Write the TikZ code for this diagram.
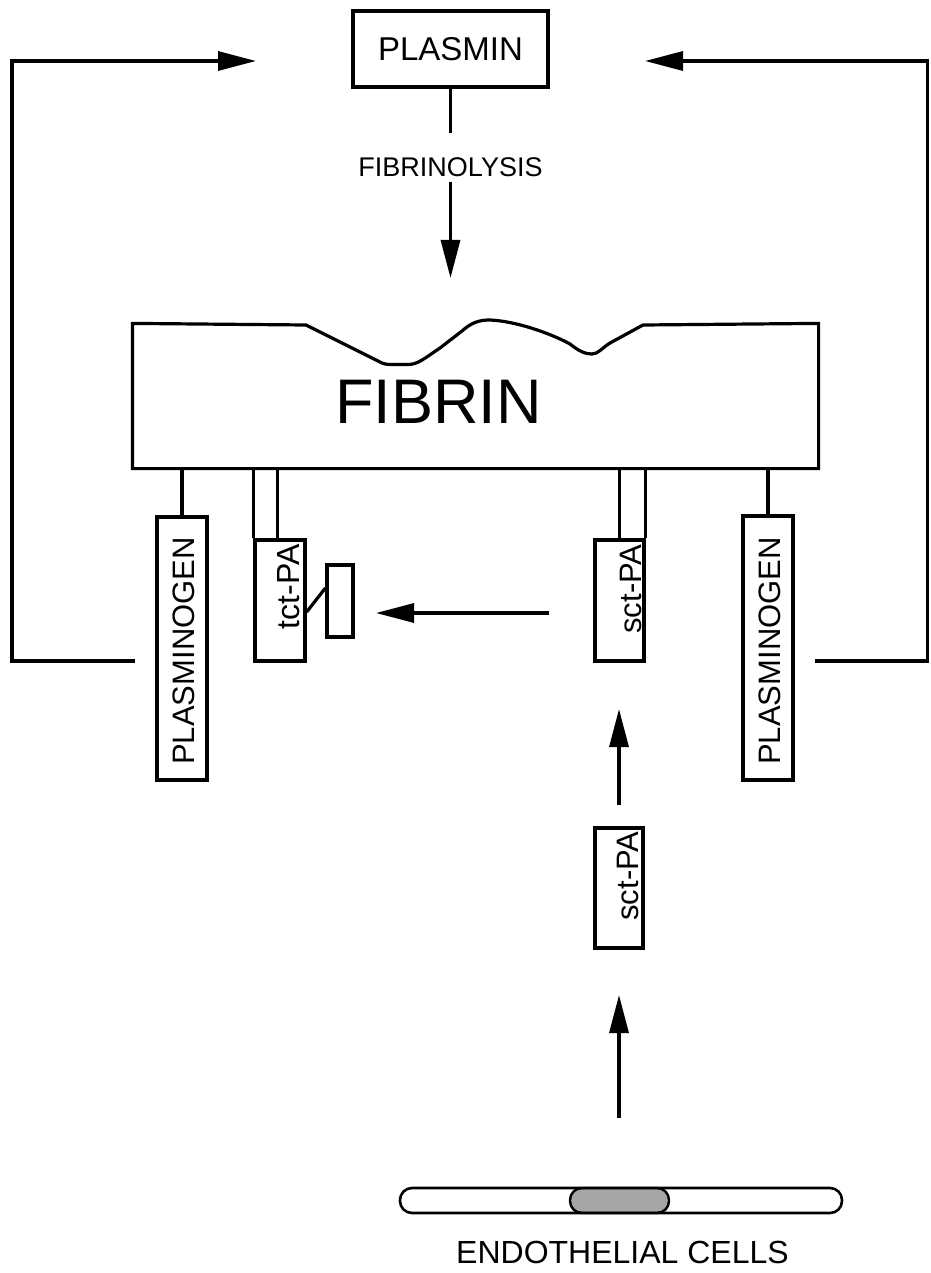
\documentclass[tikz,border=0pt]{standalone}
\usepackage{fontspec}
\setmainfont{Liberation Sans}
\usetikzlibrary{arrows.meta,calc,patterns}
\begin{document}
\begin{tikzpicture}[x=1pt,y=-1pt,
  line width=3.2pt, line join=miter,
  bx/.style={draw, line width=3.2pt, inner sep=0pt},
  arr/.style={-{Triangle[length=38pt,width=19pt]}},
  lbl/.style={inner sep=0pt, text=black},
  vtxt/.style={lbl, rotate=90, anchor=base east},
]
\useasboundingbox (0,0) rectangle (930,1273);

% PLASMIN and fibrinolysis
\node[bx, minimum width=195pt, minimum height=76pt, font=\fontsize{33}{40}\selectfont] (plasmin) at (450.5,49) {PLASMIN};
\node[lbl, font=\fontsize{27}{32}\selectfont] (fibrinolysis) at (450.5,167.5) {FIBRINOLYSIS};
\draw (plasmin.south) -- ([yshift=23pt]fibrinolysis.north);
\coordinate (fltip) at (450.5,278);
\draw[arr] ([yshift=-3pt]fibrinolysis.south) -- (fltip);

% FIBRIN
\node[minimum width=683pt, minimum height=142pt, inner sep=0pt] (fibrin) at (475.5,396) {};
\draw (fibrin.north west) -- (306,325) -- (378,361)
  .. controls (383,364) and (386,364.5) .. (392,364.5) -- (408,364.5)
  .. controls (418,364.5) and (425,358) .. (440,348) -- (462,331)
  .. controls (472,322) and (480,320) .. (490,320)
  .. controls (515,321) and (550,333) .. (570,344)
  .. controls (580,352) and (586,354) .. (592,354)
  .. controls (598,354) and (602,348) .. (610,343)
  -- (643,325) -- (fibrin.north east) -- (fibrin.south east) -- (fibrin.south west) -- cycle;
\node[lbl, font=\fontsize{63}{70}\selectfont, anchor=base] (fibrintxt) at (438.5,423) {FIBRIN};

% plasminogen boxes
\node[bx, minimum width=50pt, minimum height=263pt] (plgL) at (182,648.5) {};
\node[lbl, rotate=90, font=\fontsize{31}{36}\selectfont] (plgLt) at (184,651) {PLASMINOGEN};
\node[bx, minimum width=50pt, minimum height=264pt] (plgR) at (768,648) {};
\node[lbl, rotate=90, font=\fontsize{31}{36}\selectfont] (plgRt) at (770,651) {PLASMINOGEN};
\draw (plgL.north) -- (plgL.north |- fibrin.south);
\draw (plgR.north) -- (plgR.north |- fibrin.south);

% feedback loops
\coordinate (Lend) at (135,661);
\coordinate (Lc1) at (12,661);
\coordinate (Lc2) at (12,61);
\coordinate (Ltip) at (256,61);
\draw[arr] (Lend) -- (Lc1) -- (Lc2) -- (Ltip);
\coordinate (Rend) at (815,661);
\coordinate (Rc1) at (927.5,661);
\coordinate (Rc2) at (927.5,61);
\coordinate (Rtip) at (645,61);
\draw[arr] (Rend) -- (Rc1) -- (Rc2) -- (Rtip);

% tct-PA
\node[bx, minimum width=50pt, minimum height=121pt] (tct) at (280,600.5) {};
\node[vtxt, font=\fontsize{32}{36}\selectfont] (tctt) at (299,543) {tct-PA};
\coordinate (tctR) at ([xshift=24pt]tct.north west);
\draw (tct.north west) -- (tct.north west |- fibrin.south);
\draw (tctR) -- (tctR |- fibrin.south);
\node[bx, minimum width=26pt, minimum height=72pt] (inh) at (340,601) {};
\draw ([yshift=-11.5pt]tct.east) -- ([yshift=13pt]inh.west);

% sct-PA bound
\node[bx, minimum width=49pt, minimum height=121pt] (sct1) at (619.5,600.5) {};
\node[vtxt, font=\fontsize{31}{36}\selectfont] (sct1t) at (641,543) {sct-PA};
\draw (sct1.north) -- (sct1.north |- fibrin.south);
\draw (sct1.north east) -- (sct1.north east |- fibrin.south);
\coordinate (hTail) at (549,613);
\coordinate (hTip) at (376,613);
\draw[arr] (hTail) -- (hTip);

% sct-PA free
\node[bx, minimum width=48pt, minimum height=120pt] (sct2) at (619,888) {};
\node[vtxt, font=\fontsize{31}{36}\selectfont] (sct2t) at (638,830) {sct-PA};
\coordinate (u1Tail) at (619,805);
\coordinate (u1Tip) at (619,709);
\draw[arr] (u1Tail) -- (u1Tip);
\coordinate (u2Tail) at (619,1118);
\coordinate (u2Tip) at (619,995);
\draw[arr] (u2Tail) -- (u2Tip);

% endothelial cells
\node[draw, fill=gray!70, minimum width=99pt, minimum height=25pt, rounded corners=12pt, line width=2.4pt, inner sep=0pt] (nucleus) at (619.5,1200.5) {};
\node[draw, minimum width=442pt, minimum height=25pt, rounded corners=12pt, line width=2.6pt, inner sep=0pt] (endo) at (621,1200.5) {};
\node[lbl, anchor=base, font=\fontsize{32}{36}\selectfont] (endotxt) at (622.5,1263) {ENDOTHELIAL CELLS};
\end{tikzpicture}
\end{document}
